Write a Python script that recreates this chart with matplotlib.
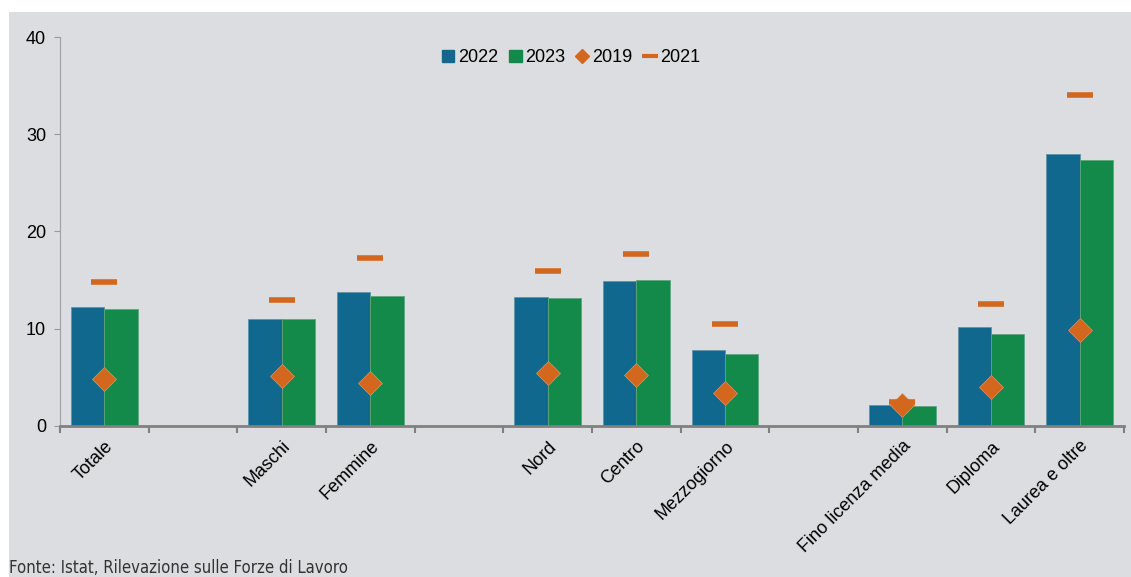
import matplotlib.pyplot as plt
from matplotlib.patches import Rectangle, Patch
from matplotlib.lines import Line2D
import numpy as np

plt.rcParams['font.family'] = ['Liberation Sans', 'DejaVu Sans']

# dati (una posizione vuota tra i gruppi)
categorie = ['Totale', '', 'Maschi', 'Femmine', '', 'Nord', 'Centro', 'Mezzogiorno', '',
             'Fino licenza media', 'Diploma', 'Laurea e oltre']
v2022 = [12.2, None, 11.0, 13.8, None, 13.3, 14.9, 7.8, None, 2.2, 10.2, 28.0]
v2023 = [12.0, None, 11.0, 13.4, None, 13.2, 15.0, 7.4, None, 2.1, 9.5, 27.4]
v2019 = [4.8, None, 5.1, 4.4, None, 5.4, 5.2, 3.4, None, 2.2, 4.0, 9.9]
v2021 = [14.8, None, 13.0, 17.3, None, 15.9, 17.7, 10.5, None, 2.5, 12.5, 34.0]

blu = '#10688e'
verde = '#138a4a'
arancio = '#d3671e'
sfondo = '#dcdde0'

fig = plt.figure(figsize=(11.31, 5.77), dpi=100)
fig.patches.append(Rectangle((9 / 1131, 0), 1, 1 - 12 / 577, transform=fig.transFigure,
                             facecolor=sfondo, edgecolor='none', zorder=-10))
ax = fig.add_axes([60 / 1131, 1 - 426 / 577, 1064 / 1131, 389 / 577])
ax.set_facecolor('none')

idx = [i for i, v in enumerate(v2022) if v is not None]
x = np.array(idx) + 0.5
w = 0.375
ax.bar(x - w / 2, [v2022[i] for i in idx], w, color=blu, edgecolor='#5f93ad', linewidth=0.6, zorder=2)
ax.bar(x + w / 2, [v2023[i] for i in idx], w, color=verde, edgecolor='#5fa57e', linewidth=0.6, zorder=2)
ax.plot(x, [v2019[i] for i in idx], linestyle='none', marker='D', markersize=12,
        color=arancio, markeredgecolor='#e09060', markeredgewidth=0.5, zorder=3)
ax.plot(x, [v2021[i] for i in idx], linestyle='none', marker='_', markersize=19,
        markeredgewidth=4, color=arancio, zorder=4)

ax.set_xlim(0, 12)
ax.set_ylim(0, 40)
ax.set_yticks([0, 10, 20, 30, 40])
ax.tick_params(axis='y', labelsize=13, length=4, color='#999999', pad=6)
ax.set_xticks(np.arange(13))
ax.set_xticklabels([])
ax.tick_params(axis='x', length=5, width=1.5, color='#808080')
for s in ['top', 'right']:
    ax.spines[s].set_visible(False)
ax.spines['left'].set_color('#a0a0a0')
ax.spines['bottom'].set_color('#808080')
ax.spines['bottom'].set_linewidth(2)

for i, c in enumerate(categorie):
    if c:
        ax.text(i + 0.5, -1.2, c, rotation=45, rotation_mode='anchor', ha='right', va='top',
                fontsize=13)

handles = [Patch(color=blu), Patch(color=verde),
           Line2D([], [], linestyle='none', marker='D', markersize=7, color=arancio),
           Line2D([], [], linestyle='none', marker='_', markersize=12, markeredgewidth=3, color=arancio)]
ax.legend(handles, ['2022', '2023', '2019', '2021'], loc='upper center', bbox_to_anchor=(0.48, 1.01),
          ncol=4, frameon=False, fontsize=13, handlelength=0.7, handleheight=0.7,
          handletextpad=0.2, columnspacing=0.6)

fig.text(9 / 1131, 4 / 577, 'Fonte: Istat, Rilevazione sulle Forze di Lavoro', fontsize=12,
         family='DejaVu Sans', stretch='condensed', color='#333333', va='baseline')

fig.savefig('out.png', dpi=100)
